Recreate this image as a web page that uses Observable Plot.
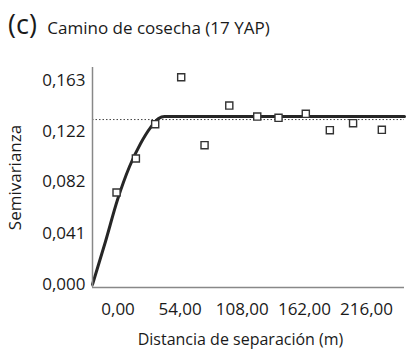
<!DOCTYPE html>
<html><head><meta charset="utf-8">
<script src="https://cdn.jsdelivr.net/npm/d3@7"></script>
<script src="https://cdn.jsdelivr.net/npm/@observablehq/plot@0.6"></script>
<style>
body{margin:0;background:#fff;font-family:"Open Sans",sans-serif;color:#1a1a1a;}
#title{height:50px;position:relative;white-space:nowrap;}
#title .t{position:absolute;left:8px;top:6px;font-size:17px;line-height:36px;}
#title .c{font-size:27px;margin-right:6px;}
#chart svg{display:block;}
</style></head><body>
<div id="title"><div class="t"><span class="c">(c)</span> Camino de cosecha (17 YAP)</div></div>
<div id="chart"></div>
<script>
// Experimental semivariogram (observed points)
const lagDistance = [-1.3, 15.5, 32.3, 54.9, 75.2, 96.7, 121.0, 139.5, 163.2, 184.1, 204.3, 229.3];
const semivariance = [0.0735, 0.1007, 0.1281, 0.1656, 0.1113, 0.1430, 0.1342, 0.1332, 0.1364, 0.1233, 0.1289, 0.1236];
// Fitted model line
const modelDistance = [-22.2, -10.9, -0.4, 10.0, 19.6, 28.2, 35.2, 40.4, 249];
const modelValue = [0, 0.0344, 0.0679, 0.0943, 0.1127, 0.1254, 0.1326, 0.1342, 0.1342];
// Sample variance reference
const sampleVariance = [0.1318];
// Ticks
const xTickValues = [0, 54, 108, 162, 216];
const xTickLabels = ["0,00", "54,00", "108,00", "162,00", "216,00"];
const yTickValues = [0, 0.041, 0.082, 0.122, 0.163];
const yTickLabels = ["0,000", "0,041", "0,082", "0,122", "0,163"];
const xLabel = ["Distancia de separación (m)"];
const xDomain = [-22.2, 249];
const yDomain = [-0.0024, 0.1734];

const points = lagDistance.map((d, i) => ({x: d, y: semivariance[i]}));
const model = modelDistance.map((d, i) => ({x: d, y: modelValue[i]}));

const chart = Plot.plot({
  width: 406,
  height: 301,
  marginLeft: 92,
  marginRight: 2,
  marginTop: 17,
  marginBottom: 64,
  style: {fontFamily: "'Open Sans', sans-serif", fontSize: "17px", color: "#1a1a1a", background: "#fff"},
  x: {domain: xDomain},
  y: {domain: yDomain},
  marks: [
    Plot.axisX({ticks: xTickValues, tickFormat: (d) => xTickLabels[xTickValues.indexOf(d)], tickSize: 0, tickPadding: 15,
      label: null, fontSize: 17}),
    Plot.text(xLabel, {frameAnchor: "bottom", dx: -8, dy: 57, fontSize: 16, fill: "#1a1a1a"}),
    Plot.axisY({ticks: yTickValues, tickFormat: (d) => yTickLabels[yTickValues.indexOf(d)], tickSize: 0, tickPadding: 7,
      label: "Semivarianza", labelAnchor: "center", labelArrow: "none", labelOffset: 84, fontSize: 17}),
    Plot.ruleY(sampleVariance, {stroke: "#444", strokeWidth: 1, strokeDasharray: "1.5,2"}),
    Plot.line(model, {x: "x", y: "y", curve: "monotone-x", stroke: "#262626", strokeWidth: 3}),
    Plot.dot(points, {x: "x", y: "y", symbol: "square", r: 4, stroke: "#333", strokeWidth: 1.4, fill: "#fff"}),
    Plot.ruleX([xDomain[0]], {stroke: "#888", strokeWidth: 1.5}),
    Plot.ruleY([yDomain[0]], {stroke: "#888", strokeWidth: 1.5})
  ]
});
document.getElementById("chart").appendChild(chart);
</script>
</body></html>
